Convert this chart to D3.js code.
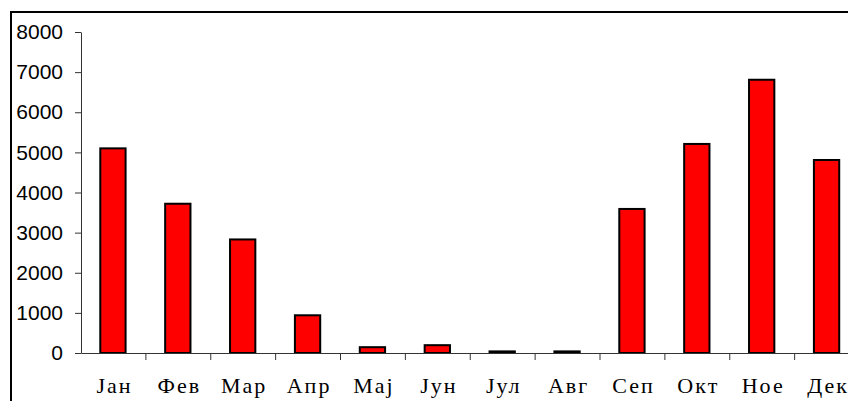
<!DOCTYPE html>
<html><head><meta charset="utf-8">
<script src="https://cdn.jsdelivr.net/npm/d3@7"></script>
<style>body{margin:0;background:#fff;overflow:hidden}</style>
</head><body>
<script>
const months = ["Јан","Фев","Мар","Апр","Мај","Јун","Јул","Авг","Сеп","Окт","Ное","Дек"];
const values = [5100,3720,2830,940,145,195,40,40,3590,5210,6810,4810];
const yTicks = [0,1000,2000,3000,4000,5000,6000,7000,8000];

const W = 848, H = 401;
const svg = d3.select("body").append("svg").attr("width", W).attr("height", H);

// outer frame (cut off at right/bottom)
svg.append("rect").attr("x", 11).attr("y", 12).attr("width", 900).attr("height", 500)
  .attr("fill", "none").attr("stroke", "#000").attr("stroke-width", 2);

const x = d3.scaleBand().domain(months).range([81, 859.5]).padding(0);
const y = d3.scaleLinear().domain([0, 8000]).range([353, 32]);

// bars
const bw = x.bandwidth() * 0.39;
svg.selectAll("rect.bar").data(values).join("rect")
  .attr("class", "bar")
  .attr("x", (d, i) => x(months[i]) + x.bandwidth() / 2 - bw / 2 - 0.5)
  .attr("y", d => y(d))
  .attr("width", bw)
  .attr("height", d => y(0) - y(d))
  .attr("fill", "#ff0000").attr("stroke", "#000").attr("stroke-width", 2);

// y axis
const yAxis = svg.append("g").attr("transform", "translate(81,0)")
  .call(d3.axisLeft(y).tickValues(yTicks).tickFormat(d3.format("d")).tickSize(6).tickSizeOuter(0).tickPadding(12));
yAxis.select(".domain").attr("stroke", "#333");
yAxis.selectAll(".tick line").attr("stroke", "#333");
yAxis.selectAll("text").attr("font-family", "Liberation Sans, Arial, sans-serif")
  .attr("font-size", 21).attr("fill", "#000");

// x axis
const xAxis = svg.append("g").attr("transform", "translate(0,353)")
  .call(d3.axisBottom(x).tickSize(0).tickSizeOuter(0).tickPadding(24));
xAxis.select(".domain").attr("stroke", "#333");
xAxis.selectAll("text").attr("font-family", "Liberation Serif, Times New Roman, serif")
  .attr("font-size", 22).attr("letter-spacing", "2px").attr("fill", "#000")
  .attr("dx", 1);
// boundary ticks
const bounds = months.map(m => x(m)).slice(1);
xAxis.selectAll("line.bt").data(bounds).join("line").attr("class", "bt")
  .attr("x1", d => d).attr("x2", d => d).attr("y1", 0).attr("y2", 7)
  .attr("stroke", "#333");
</script>
</body></html>
